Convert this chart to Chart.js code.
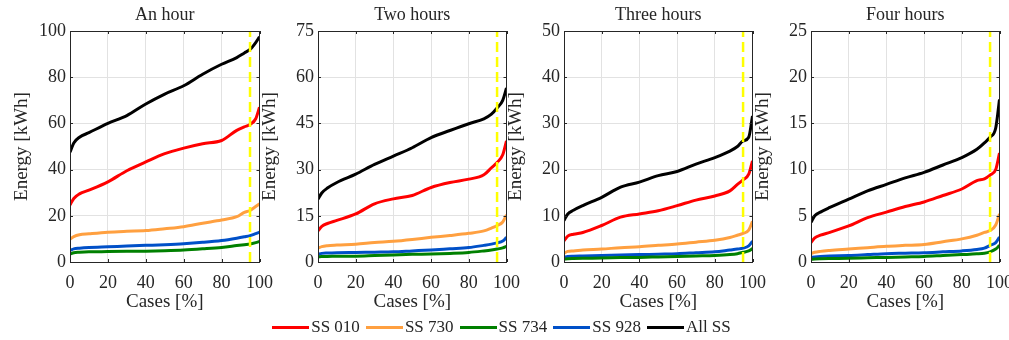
<!DOCTYPE html>
<html>
<head>
<meta charset="utf-8">
<script src="https://cdn.jsdelivr.net/npm/chart.js@4.4.1/dist/chart.umd.min.js"></script>
<style>
  html, body { margin: 0; padding: 0; background: #fff; overflow: hidden; }
  #wrap { position: relative; width: 1009px; height: 340px; overflow: hidden; }
  .panel { position: absolute; top: 0; }
  #legend {
    position: absolute; top: 316px; left: 0; width: 1009px; height: 22px;
    display: flex; justify-content: center; align-items: center;
    font-family: "Liberation Serif", "DejaVu Serif", serif; font-size: 17px; color: #262626;
  }
  .lg-item { display: flex; align-items: center; margin-right: 6px; }
  .lg-line { width: 37px; height: 3px; margin-right: 2px; }
</style>
</head>
<body>
<div id="wrap">
  <canvas class="panel" id="p0"></canvas>
  <canvas class="panel" id="p1"></canvas>
  <canvas class="panel" id="p2"></canvas>
  <canvas class="panel" id="p3"></canvas>
  <div id="legend"></div>
</div>
<script>
// ---- data (x = share of cases, %) ----
const cases = [0, 2, 5, 10, 20, 30, 40, 50, 60, 70, 80, 88, 92, 95, 98, 100];

const panelTitles = ['An hour', 'Two hours', 'Three hours', 'Four hours'];
const yMaxes = [100, 75, 50, 25];
const ySteps = [20, 15, 10, 5];
const thresholdPct = 95;

const seriesNames = ['SS 010', 'SS 730', 'SS 734', 'SS 928', 'All SS'];

// one row per panel: 1h, 2h, 3h, 4h
const ss010 = [
  [24.7, 27.5, 29.5, 31.1, 34.7, 39.5, 43.3, 46.9, 49.3, 51.2, 52.6, 57.0, 58.5, 59.5, 62.0, 67.0],
  [10.1, 11.6, 12.5, 13.5, 15.6, 18.9, 20.5, 21.6, 24.2, 25.8, 26.9, 28.3, 30.6, 32.3, 34.8, 39.3],
  [4.6, 5.6, 6.0, 6.4, 7.9, 9.7, 10.4, 11.1, 12.2, 13.4, 14.3, 15.4, 16.8, 17.8, 19.0, 21.9],
  [2.1, 2.6, 2.9, 3.2, 3.9, 4.8, 5.4, 6.0, 6.5, 7.2, 7.9, 8.8, 9.0, 9.4, 10.0, 11.8]
];
const ss730 = [
  [9.9, 11.0, 11.8, 12.2, 12.9, 13.3, 13.6, 14.4, 15.3, 16.8, 18.2, 19.6, 21.5, 22.3, 24.0, 25.2],
  [4.5, 5.0, 5.3, 5.5, 5.8, 6.3, 6.7, 7.3, 8.0, 8.6, 9.3, 10.1, 11.0, 11.8, 13.0, 15.3],
  [1.9, 2.3, 2.4, 2.6, 2.8, 3.1, 3.3, 3.6, 3.9, 4.3, 4.7, 5.3, 5.8, 6.2, 6.9, 8.8],
  [0.9, 1.05, 1.15, 1.25, 1.4, 1.55, 1.7, 1.8, 1.9, 2.2, 2.5, 2.9, 3.2, 3.4, 4.0, 5.2]
];
const ss734 = [
  [3.4, 4.0, 4.2, 4.4, 4.5, 4.6, 4.7, 4.9, 5.2, 5.7, 6.3, 7.1, 7.5, 7.8, 8.4, 8.9],
  [1.6, 1.8, 1.8, 1.9, 1.9, 2.1, 2.3, 2.5, 2.6, 2.8, 3.1, 3.6, 3.9, 4.2, 4.6, 5.1],
  [0.6, 0.7, 0.75, 0.8, 0.85, 0.95, 1.0, 1.1, 1.2, 1.3, 1.4, 1.6, 1.8, 2.1, 2.4, 2.9],
  [0.3, 0.33, 0.35, 0.37, 0.4, 0.45, 0.5, 0.55, 0.6, 0.7, 0.8, 0.88, 0.95, 1.1, 1.4, 1.8]
];
const ss928 = [
  [5.0, 5.7, 6.0, 6.3, 6.6, 6.9, 7.2, 7.5, 7.9, 8.5, 9.3, 10.3, 10.9, 11.4, 12.3, 12.9],
  [2.5, 2.8, 2.9, 3.0, 3.1, 3.2, 3.3, 3.6, 3.9, 4.3, 4.7, 5.4, 5.8, 6.2, 6.8, 8.0],
  [1.0, 1.2, 1.25, 1.3, 1.4, 1.5, 1.6, 1.7, 1.8, 2.0, 2.2, 2.6, 2.8, 3.0, 3.5, 4.5],
  [0.5, 0.55, 0.6, 0.65, 0.7, 0.8, 0.9, 0.95, 1.0, 1.1, 1.2, 1.35, 1.5, 1.8, 2.1, 2.7]
];
const allSS = [
  [47.5, 51.5, 54.0, 56.0, 60.0, 63.4, 68.4, 72.7, 76.3, 81.3, 85.6, 88.5, 90.5, 92.0, 95.0, 97.5],
  [20.4, 22.4, 24.0, 25.8, 28.5, 31.7, 34.4, 37.1, 40.4, 42.7, 44.9, 46.5, 48.0, 50.0, 52.5, 56.5],
  [9.0, 10.4, 11.2, 12.2, 14.0, 16.2, 17.3, 18.7, 19.6, 21.2, 22.6, 24.0, 25.0, 26.2, 27.0, 31.6],
  [4.3, 5.0, 5.4, 5.9, 6.8, 7.7, 8.4, 9.1, 9.7, 10.5, 11.3, 12.2, 12.9, 13.5, 14.5, 17.6]
];

// ---- look ----
const seriesColors = ['#ff0000', '#ffa040', '#008000', '#0050c8', '#000000'];
const FONT = '"Liberation Serif", "DejaVu Serif", serif';
const TXT = '#262626';
const plotLeft = [70, 318, 564, 811];
const plotRight = [259, 506, 752, 999];
// right room = overhang of the last x label (Chart.js reserves ~23.5px for "100")
const AXIS_W = 70, RIGHT_ROOM = 24, CANVAS_H = 318, PLOT_TOP = 31, PLOT_BOTTOM = 262;

const seriesData = [ss010, ss730, ss734, ss928, allSS];

// MATLAB-style box with inward ticks, plus the panel title centred on the plot
const boxFrame = {
  id: 'boxFrame',
  afterDatasetsDraw(chart) {
    const { ctx, chartArea: a, scales } = chart;
    ctx.save();
    ctx.strokeStyle = TXT;
    ctx.lineWidth = 1;
    ctx.strokeRect(Math.round(a.left) + 0.5, Math.round(a.top) + 0.5,
      Math.round(a.width) - 1, Math.round(a.height));
    ctx.beginPath();
    scales.x.ticks.forEach((t) => {
      const px = Math.round(scales.x.getPixelForValue(t.value)) + 0.5;
      ctx.moveTo(px, a.bottom); ctx.lineTo(px, a.bottom - 3);
      ctx.moveTo(px, a.top); ctx.lineTo(px, a.top + 3);
    });
    scales.y.ticks.forEach((t) => {
      const py = Math.round(scales.y.getPixelForValue(t.value)) + 0.5;
      ctx.moveTo(a.left, py); ctx.lineTo(a.left + 3, py);
      ctx.moveTo(a.right, py); ctx.lineTo(a.right - 3, py);
    });
    ctx.stroke();
    ctx.restore();
  },
  afterDraw(chart, args, opts) {
    const { ctx, chartArea: a } = chart;
    ctx.save();
    ctx.fillStyle = TXT;
    ctx.font = '18px ' + FONT;
    ctx.textAlign = 'center';
    ctx.textBaseline = 'middle';
    ctx.fillText(opts.text, (a.left + a.right) / 2, 15);
    ctx.restore();
  }
};

function makePanel(i) {
  const cv = document.getElementById('p' + i);
  const left = plotLeft[i] - AXIS_W;
  cv.width = plotRight[i] - left + RIGHT_ROOM;
  cv.height = CANVAS_H;
  cv.style.left = left + 'px';

  const datasets = [{
    label: 'threshold',
    data: [{ x: thresholdPct, y: 0 }, { x: thresholdPct, y: yMaxes[i] }],
    borderColor: '#ffff00', borderWidth: 2.5, borderDash: [10, 5],
    pointRadius: 0, order: 0
  }];
  seriesNames.forEach((name, s) => {
    datasets.push({
      label: name,
      data: cases.map((c, k) => ({ x: c, y: seriesData[s][i][k] })),
      borderColor: seriesColors[s], borderWidth: 3,
      pointRadius: 0, cubicInterpolationMode: 'monotone', order: 1
    });
  });

  new Chart(cv, {
    type: 'line',
    data: { datasets: datasets },
    plugins: [boxFrame],
    options: {
      responsive: false,
      maintainAspectRatio: false,
      animation: false,
      layout: { padding: { left: 0, right: 0, top: PLOT_TOP, bottom: 0 } },
      plugins: {
        legend: { display: false },
        tooltip: { enabled: false },
        title: { display: false },
        boxFrame: { text: panelTitles[i] }
      },
      scales: {
        x: {
          type: 'linear', min: 0, max: 100,
          ticks: { stepSize: 20, color: TXT, font: { family: FONT, size: 18 }, padding: 10, maxRotation: 0 },
          grid: { color: '#e2e2e2', drawTicks: false },
          border: { color: TXT },
          title: { display: true, text: 'Cases [%]', color: TXT,
            font: { family: FONT, size: 19, lineHeight: 1.2 }, padding: { top: 0, bottom: 5 } },
          afterFit: (s) => { s.height = CANVAS_H - PLOT_BOTTOM; }
        },
        y: {
          type: 'linear', min: 0, max: yMaxes[i],
          ticks: { stepSize: ySteps[i], color: TXT, font: { family: FONT, size: 18 }, padding: 4 },
          grid: { color: '#e2e2e2', drawTicks: false },
          border: { color: TXT },
          title: { display: true, text: 'Energy [kWh]', color: TXT,
            font: { family: FONT, size: 19, lineHeight: 1.2 }, padding: { top: 11, bottom: 0 } },
          afterFit: (s) => { s.width = AXIS_W; }
        }
      }
    }
  });
}

[0, 1, 2, 3].forEach(makePanel);

// legend row
const lg = document.getElementById('legend');
seriesNames.forEach((name, s) => {
  const item = document.createElement('div');
  item.className = 'lg-item';
  const line = document.createElement('span');
  line.className = 'lg-line';
  line.style.background = seriesColors[s];
  const txt = document.createElement('span');
  txt.textContent = name;
  item.appendChild(line);
  item.appendChild(txt);
  lg.appendChild(item);
});
</script>
</body>
</html>
